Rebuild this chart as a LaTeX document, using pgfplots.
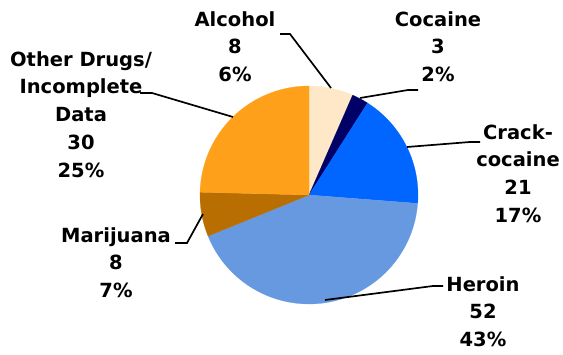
\documentclass[border=0pt]{standalone}
\usepackage{pgfplots}
\usepackage{pgfplotstable}
\pgfplotsset{compat=1.18}
\usepackage{fontspec}
\setmainfont{DejaVu Sans}
\definecolor{slice0}{HTML}{FFE8C8}
\definecolor{slice1}{HTML}{000066}
\definecolor{slice2}{HTML}{0066FF}
\definecolor{slice3}{HTML}{6699E0}
\definecolor{slice4}{HTML}{B86E00}
\definecolor{slice5}{HTML}{FFA01A}
\pgfplotstableread{
label value
Alcohol 8
Cocaine 3
Crack-cocaine 21
Heroin 52
Marijuana 8
Other 30
}\piedata
\begin{document}
\begin{tikzpicture}
\begin{axis}[
  scale only axis, width=563pt, height=355pt,
  xmin=0, xmax=563, ymin=0, ymax=355,
  hide axis, clip=false,
]
\path (axis cs:0,0) rectangle (axis cs:563,355);
% total
\def\total{0}
\pgfplotsforeachungrouped \i in {0,...,5}{%
  \pgfplotstablegetelem{\i}{value}\of\piedata
  \pgfmathsetmacro\newtotal{\total+\pgfplotsretval}%
  \global\let\total\newtotal
}
\def\cum{0}
\pgfplotsforeachungrouped \i in {0,...,5}{%
  \pgfplotstablegetelem{\i}{value}\of\piedata
  \pgfmathsetmacro\vstart{90-360*(\cum/\total)}%
  \pgfmathsetmacro\cumnew{\cum+\pgfplotsretval}%
  \pgfmathsetmacro\vend{90-360*(\cumnew/\total)}%
  \edef\tmp{\noexpand\addplot[fill=slice\i, draw=slice\i, line width=0.2pt, domain=\vend:\vstart, samples=80] ({309+109*cos(x)},{160+109*sin(x)}) -- (axis cs:309,160) -- cycle;}%
  \tmp
  \global\let\cum\cumnew
}
\tikzset{lbl/.style={anchor=north, align=center, inner sep=0pt, font=\fontsize{19.5}{27.75}\selectfont\bfseries}}
\node[lbl] at (axis cs:235,344) {Alcohol\\8\\6\%};
\node[lbl] at (axis cs:438,344) {Cocaine\\3\\2\%};
\node[lbl] at (axis cs:81,304) {Other Drugs/\\Incomplete\\Data\\30\\25\%};
\node[lbl] at (axis cs:518,231) {Crack-\\cocaine\\21\\17\%};
\node[lbl] at (axis cs:116,128) {Marijuana\\8\\7\%};
\node[lbl] at (axis cs:483,79) {Heroin\\52\\43\%};
\tikzset{leader/.style={line width=1.7pt}}
\draw[leader] (axis cs:280,321) -- (axis cs:290,321) -- (axis cs:331,267);
\draw[leader] (axis cs:418,265) -- (axis cs:408,265) -- (axis cs:360,257);
\draw[leader] (axis cs:407,208) -- (axis cs:470,213) -- (axis cs:480,213);
\draw[leader] (axis cs:325,55) -- (axis cs:433,69) -- (axis cs:443,69);
\draw[leader] (axis cs:203,141) -- (axis cs:187,112) -- (axis cs:175,112);
\draw[leader] (axis cs:233,238) -- (axis cs:152,262) -- (axis cs:140,262);
\end{axis}
\end{tikzpicture}
\end{document}
